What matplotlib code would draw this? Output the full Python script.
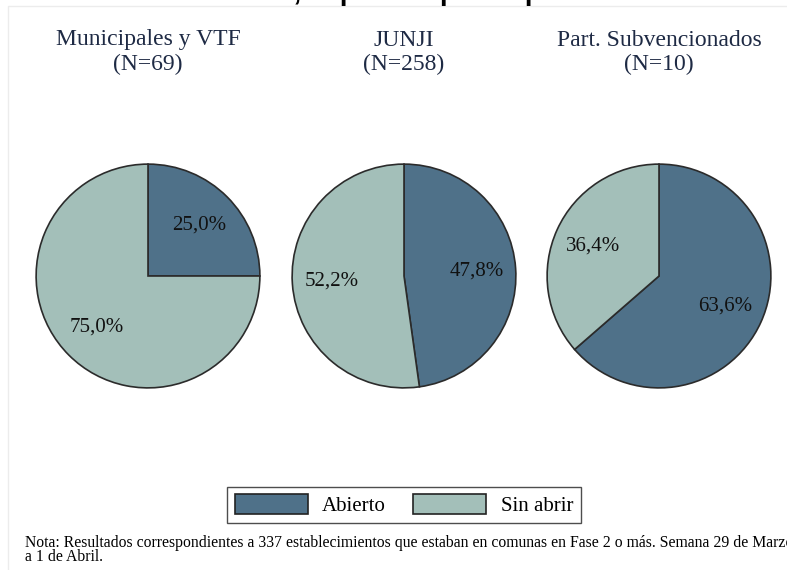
import matplotlib.pyplot as plt
import numpy as np
from matplotlib.patches import Patch, Rectangle

W, H = 787, 570

groups = ["Municipales y VTF", "JUNJI", "Part. Subvencionados"]
counts = ["(N=69)", "(N=258)", "(N=10)"]
abierto = [25.0, 47.8, 63.6]
sin_abrir = [75.0, 52.2, 36.4]
categories = ["Abierto", "Sin abrir"]
colors = ["#4f7189", "#a3bfb9"]

titulo = "Apertura de establecimientos en la semana, separado por dependencia"
nota = ("Nota: Resultados correspondientes a 337 establecimientos que estaban en comunas en Fase 2 o más. "
        "Semana 29 de Marzo\na 1 de Abril.")

serif = "Liberation Serif"

fig = plt.figure(figsize=(W / 100, H / 100), dpi=100)
fig.patches.append(Rectangle((8 / W, -0.01), 1, 1 - 6 / H + 0.01, transform=fig.transFigure,
                             facecolor="white", edgecolor="#ececec", lw=1, zorder=-5))

# titulo cortado arriba (solo se ve el borde inferior)
fig.text(662 / W, 1 - 0.5 / H, titulo, ha="right", va="baseline", fontsize=20,
         fontweight="bold", family="Liberation Sans")

centers = [148, 404, 659]
r = 113
cy = 276
for i, cx in enumerate(centers):
    ax = fig.add_axes([(cx - r) / W, (H - cy - r) / H, 2 * r / W, 2 * r / H])
    vals = [abierto[i], sin_abrir[i]]
    ax.pie(vals, colors=colors, startangle=90, counterclock=False,
           wedgeprops=dict(edgecolor="#2b2b2b", linewidth=1.2))
    # etiquetas a 0.65 del radio
    ang0 = 90
    for v in vals:
        mid = np.deg2rad(ang0 - v * 3.6 / 2)
        ax.text(0.65 * np.cos(mid), 0.65 * np.sin(mid), f"{v:.1f}%".replace(".", ","),
                ha="center", va="center", fontsize=15, family=serif, color="#111111")
        ang0 -= v * 3.6
    ax.set_xlim(-1.01, 1.01)
    ax.set_ylim(-1.01, 1.01)
    ax.set_aspect("equal")
    ax.axis("off")
    fig.text(cx / W, 1 - 40 / H, groups[i], ha="center", va="center", fontsize=17,
             family=serif, color="#1e2a44")
    fig.text(cx / W, 1 - 64 / H, counts[i], ha="center", va="center", fontsize=17,
             family=serif, color="#1e2a44")

handles = [Patch(facecolor=c, edgecolor="#222222", lw=1.2) for c in colors]
leg = fig.legend(handles, categories, loc="center", bbox_to_anchor=(404 / W, 1 - 505 / H),
                 ncol=2, frameon=True, fancybox=False, edgecolor="#222222",
                 prop={"family": serif, "size": 15}, handlelength=3.5, handleheight=1.1,
                 columnspacing=1.3, borderpad=0.35, handletextpad=0.7)
leg.get_frame().set_linewidth(1.0)

fig.text(25 / W, 1 - 550 / H, nota, ha="left", va="center", fontsize=11.3,
         family=serif, linespacing=0.9)

fig.savefig("out.png", dpi=100)
